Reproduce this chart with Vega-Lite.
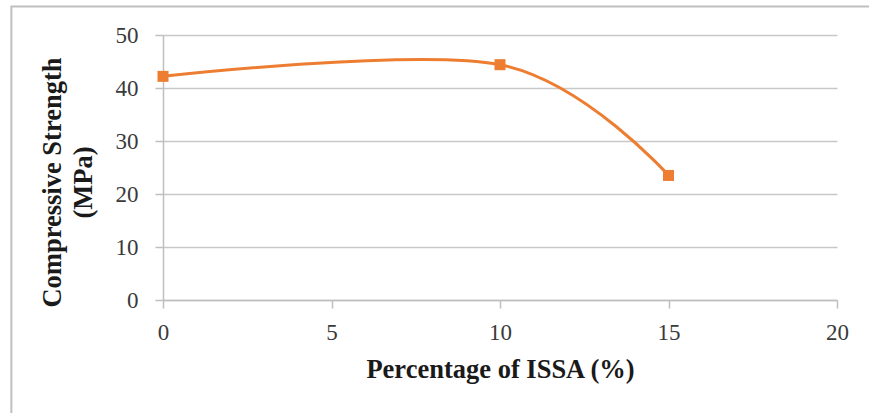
{
  "$schema": "https://vega.github.io/schema/vega-lite/v6.json",
  "width": 674,
  "height": 265,
  "autosize": {"type": "none"},
  "padding": {"left": 163, "top": 35, "right": 32, "bottom": 113},
  "background": "white",
  "config": {
    "view": {"stroke": null},
    "font": "Liberation Serif",
    "axis": {
      "labelFont": "Liberation Serif",
      "titleFont": "Liberation Serif",
      "labelFontSize": 23,
      "titleFontSize": 26.5,
      "labelColor": "#3a3a3a",
      "titleColor": "#1a1a1a",
      "titleFontWeight": "bold",
      "labelFlush": false,
      "labelOverlap": false,
      "domainColor": "#bfbfbf",
      "tickColor": "#bfbfbf",
      "gridColor": "#c8c8c8",
      "domainWidth": 1.5,
      "tickWidth": 1.5,
      "gridWidth": 1.5
    }
  },
  "datasets": {
    "strength": [
      {"issa": 0, "strength": 42.2},
      {"issa": 10, "strength": 44.4},
      {"issa": 15, "strength": 23.5}
    ],
    "frame": [
      {"x1": -4.5, "x2": 40, "y1": 55.4, "y2": -40}
    ]
  },
  "layer": [
    {
      "data": {"name": "frame"},
      "mark": {"type": "rect", "fill": null, "stroke": "#bfbfbf", "strokeWidth": 2, "clip": false},
      "encoding": {
        "x": {"field": "x1", "type": "quantitative"},
        "x2": {"field": "x2"},
        "y": {"field": "y1", "type": "quantitative"},
        "y2": {"field": "y2"}
      }
    },
    {
      "data": {"name": "strength"},
      "mark": {"type": "line", "interpolate": "cardinal", "tension": 0, "color": "#ED7D31", "strokeWidth": 3},
      "encoding": {
        "x": {
          "field": "issa", "type": "quantitative",
          "scale": {"domain": [0, 20], "nice": false, "zero": false},
          "axis": {"values": [0, 5, 10, 15, 20], "grid": false, "tickSize": 8, "labelPadding": 13, "title": "Percentage of ISSA (%)", "titlePadding": 12, "format": "d"}
        },
        "y": {
          "field": "strength", "type": "quantitative",
          "scale": {"domain": [0, 50], "nice": false},
          "axis": {"values": [0, 10, 20, 30, 40, 50], "tickSize": 8, "labelPadding": 17, "title": ["Compressive Strength", "(MPa)"], "titlePadding": 18, "titleLineHeight": 31, "titleY": 147, "format": "d"}
        }
      }
    },
    {
      "data": {"name": "strength"},
      "mark": {"type": "square", "color": "#ED7D31", "size": 121, "opacity": 1, "filled": true},
      "encoding": {
        "x": {"field": "issa", "type": "quantitative"},
        "y": {"field": "strength", "type": "quantitative"}
      }
    }
  ]
}
